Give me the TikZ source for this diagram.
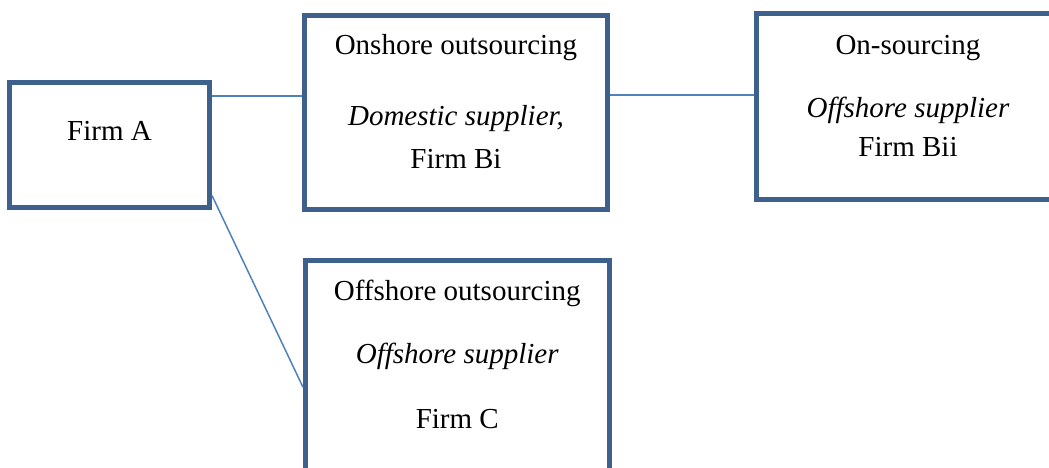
\documentclass[tikz,border=0pt]{standalone}
\usepackage{fontspec}
\setmainfont{Liberation Serif}
\usetikzlibrary{positioning}
\definecolor{boxblue}{RGB}{62,96,140}
\definecolor{lineblue}{RGB}{79,129,189}
\tikzset{
    %Define style for boxes
    firmbox/.style={
           rectangle,
           draw=boxblue, line width=5pt,
           inner sep=0pt,
           fill=white},
    %Define style for texts
    boxtext/.style={
           anchor=base,
           inner sep=0pt,
           font=\fontsize{29}{34}\selectfont},
    % Define connector style
    link/.style={
           draw=lineblue,
           line width=1.5pt}
}
\begin{document}
\begin{tikzpicture}[x=1pt,y=-1pt]
\useasboundingbox (0,0) rectangle (1049,468);
 %boxes
\node[firmbox, minimum width=200pt, minimum height=125pt] (firmA) at (109.5,145) {};
\node[firmbox, minimum width=303pt, minimum height=194pt] (onshore) at (456,112.5) {};
\node[firmbox, minimum width=304pt, minimum height=185pt] (onsrc) at (908,106.5) {};
\node[firmbox, minimum width=303.5pt, minimum height=219.5pt] (offsh) at (457.25,370.25) {};
 %texts
\node[boxtext] (tA) at (109.5,140) {Firm A};
\node[boxtext] (tOn1) at (456,55) {Onshore outsourcing};
\node[boxtext] (tOn2) at (456,125) {\itshape Domestic supplier,};
\node[boxtext] (tOn3) at (456,168) {Firm Bi};
\node[boxtext] (tSrc1) at (908,55) {On-sourcing};
\node[boxtext] (tSrc2) at (908,118) {\itshape Offshore supplier};
\node[boxtext] (tSrc3) at (908,157) {Firm Bii};
\node[boxtext] (tOff1) at (457.25,300) {Offshore outsourcing};
\node[boxtext] (tOff2) at (457.25,363) {\itshape Offshore supplier};
\node[boxtext] (tOff3) at (457.25,428) {Firm C};
 %connectors
\coordinate (a1) at ([yshift=49pt]firmA.east);
\coordinate (b1) at ([yshift=17.5pt]onshore.east);
\coordinate (a2) at ([yshift=14.5pt]firmA.south east);
\coordinate (c1) at ([yshift=-17pt]offsh.west);
\path[link]
    (a1) edge (a1 -| onshore.west)
    (b1) edge (b1 -| onsrc.west)
    (a2) edge (c1);
\end{tikzpicture}
\end{document}
